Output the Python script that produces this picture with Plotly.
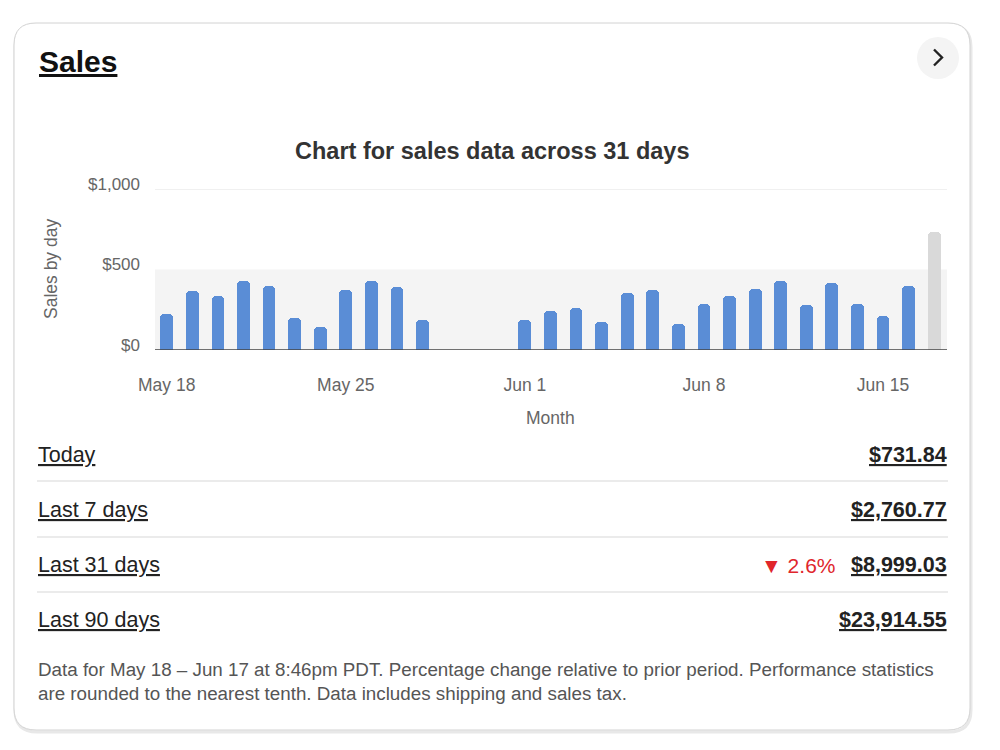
import plotly.graph_objects as go

# ---------------- data ----------------
days = ["2024-05-18", "2024-05-19", "2024-05-20", "2024-05-21", "2024-05-22", "2024-05-23",
        "2024-05-24", "2024-05-25", "2024-05-26", "2024-05-27", "2024-05-28", "2024-05-29",
        "2024-05-30", "2024-05-31", "2024-06-01", "2024-06-02", "2024-06-03", "2024-06-04",
        "2024-06-05", "2024-06-06", "2024-06-07", "2024-06-08", "2024-06-09", "2024-06-10",
        "2024-06-11", "2024-06-12", "2024-06-13", "2024-06-14", "2024-06-15", "2024-06-16",
        "2024-06-17"]
sales = [222, 364, 338, 426, 400, 196, 144, 375, 426, 393, 185, 0, 0, 0,
         185, 241, 261, 175, 354, 372, 160, 288, 335, 381, 426, 278, 415, 288, 212, 400,
         731.84]
x_tick_vals = ["2024-05-18", "2024-05-25", "2024-06-01", "2024-06-08", "2024-06-15"]
x_tick_text = ["May 18", "May 25", "Jun 1", "Jun 8", "Jun 15"]
y_tick_vals = [0, 500, 1000]
y_tick_text = ["$0", "$500", "$1,000"]

row_labels = ["Today", "Last 7 days", "Last 31 days", "Last 90 days"]
row_values = ["$731.84", "$2,760.77", "$8,999.03", "$23,914.55"]
change_31 = "2.6%"

footer = ("Data for May 18 – Jun 17 at 8:46pm PDT. Percentage change relative to prior period. Performance statistics"
          "<br>are rounded to the nearest tenth. Data includes shipping and sales tax.")

W, H = 1000, 750
def px(x): return x / W
def py(y): return 1 - y / H

BLUE = "#5a8dd6"
TODAY_GRAY = "#d9d9d9"
colors = [BLUE] * (len(sales) - 1) + [TODAY_GRAY]

fig = go.Figure()
fig.add_trace(go.Bar(
    x=days, y=sales, marker=dict(color=colors, cornerradius=4, line=dict(width=0)),
    width=0.5 * 86400000, hoverinfo="skip", showlegend=False,
))

FONT = "Liberation Sans, Arial, sans-serif"

fig.update_layout(
    width=W, height=H, margin=dict(l=0, r=0, t=0, b=0, pad=0, autoexpand=False),
    paper_bgcolor="white", plot_bgcolor="rgba(0,0,0,0)",
    font=dict(family=FONT, color="#666"),
    xaxis=dict(
        domain=[px(155), px(947)], type="date", automargin=False,
        range=["2024-05-17 13:00", "2024-06-17 12:00"],
        tickvals=x_tick_vals, ticktext=x_tick_text, showgrid=False, zeroline=False,
        showline=False, ticks="", tickfont=dict(size=17.5, color="#666"), ticklabelstandoff=22,
    ),
    yaxis=dict(
        domain=[py(350), py(189)], range=[0, 1000], automargin=False,
        tickvals=y_tick_vals, ticktext=y_tick_text, showgrid=False, zeroline=False,
        showline=False, ticks="", tickfont=dict(size=17, color="#666"), ticklabelstandoff=14,
        ticklabelshift=-5,
    ),
    bargap=0,
)

shapes = []

# card rounded rect
def rrect(x0, y0, x1, y1, r):
    X0, X1 = px(x0), px(x1)
    Y0, Y1 = py(y0), py(y1)
    rx, ry = r / W, r / H
    return (f"M {X0+rx},{Y0} L {X1-rx},{Y0} Q {X1},{Y0} {X1},{Y0-ry} "
            f"L {X1},{Y1+ry} Q {X1},{Y1} {X1-rx},{Y1} L {X0+rx},{Y1} Q {X0},{Y1} {X0},{Y1+ry} "
            f"L {X0},{Y0-ry} Q {X0},{Y0} {X0+rx},{Y0} Z")

shapes.append(dict(type="path", xref="paper", yref="paper", path=rrect(15, 25, 971, 732, 22),
                   line=dict(color="#e8e8e8", width=3), fillcolor="rgba(0,0,0,0)", layer="below"))
shapes.append(dict(type="path", xref="paper", yref="paper", path=rrect(14, 23, 970, 730, 22),
                   line=dict(color="#d2d2d2", width=1), fillcolor="white", layer="below"))

# band 0-500 and gridline at 1000
shapes.append(dict(type="rect", xref="x domain", yref="y", x0=0, x1=1, y0=0, y1=500,
                   fillcolor="#f4f4f4", line=dict(width=0), layer="below"))
shapes.append(dict(type="line", xref="x domain", yref="y", x0=0, x1=1, y0=1000, y1=1000,
                   line=dict(color="#f0f0f0", width=2), layer="below"))
shapes.append(dict(type="line", xref="x domain", yref="y", x0=0, x1=1, y0=0, y1=0,
                   line=dict(color="#444", width=1.5), layer="above"))

# chevron button
shapes.append(dict(type="circle", xref="paper", yref="paper",
                   x0=px(917), x1=px(959), y0=py(79), y1=py(37),
                   fillcolor="#f4f4f4", line=dict(width=0)))
shapes.append(dict(type="path", xref="paper", yref="paper",
                   path=f"M {px(934)},{py(49.5)} L {px(942)},{py(57.5)} L {px(934)},{py(65.5)}",
                   line=dict(color="#222", width=2.4)))

# separators
for yy in [481, 537, 592]:
    shapes.append(dict(type="line", xref="paper", yref="paper", x0=px(37), x1=px(948),
                       y0=py(yy), y1=py(yy), line=dict(color="#e5e5e5", width=1.5)))

fig.update_layout(shapes=shapes)

ann = []
ann.append(dict(text="<b><u>Sales</u></b>", x=px(37), y=py(61), xref="paper", yref="paper",
                xanchor="left", yanchor="middle", showarrow=False,
                font=dict(size=30, color="#111", family=FONT)))
ann.append(dict(text="<b>Chart for sales data across 31 days</b>", x=px(492), y=py(151),
                xref="paper", yref="paper", xanchor="center", yanchor="middle", showarrow=False,
                font=dict(size=23.5, color="#333", family=FONT)))
ann.append(dict(text="Sales by day", x=px(51), y=py(269), xref="paper", yref="paper",
                xanchor="center", yanchor="middle", showarrow=False, textangle=-90,
                font=dict(size=17.5, color="#666", family=FONT)))
ann.append(dict(text="Month", x=px(550), y=py(418), xref="paper", yref="paper",
                xanchor="center", yanchor="middle", showarrow=False,
                font=dict(size=17.5, color="#666", family=FONT)))

row_y = [455, 510, 565, 620]
for lab, val, yy in zip(row_labels, row_values, row_y):
    ann.append(dict(text=f"<u>{lab}</u>", x=px(36), y=py(yy), xref="paper", yref="paper",
                    xanchor="left", yanchor="middle", showarrow=False,
                    font=dict(size=21.5, color="#222", family=FONT)))
    ann.append(dict(text=f"<b><u>{val}</u></b>", x=px(949), y=py(yy), xref="paper", yref="paper",
                    xanchor="right", yanchor="middle", showarrow=False,
                    font=dict(size=21.5, color="#222", family=FONT)))

ann.append(dict(text=f"▼ {change_31}", x=px(837), y=py(565), xref="paper", yref="paper",
                xanchor="right", yanchor="middle", showarrow=False,
                font=dict(size=21, color="#e0262c", family=FONT)))

ann.append(dict(text=footer, x=px(36), y=py(681), xref="paper", yref="paper",
                xanchor="left", yanchor="middle", align="left", showarrow=False,
                font=dict(size=18.8, color="#555", family=FONT)))

fig.update_layout(annotations=ann)
fig.write_html("out.html")
